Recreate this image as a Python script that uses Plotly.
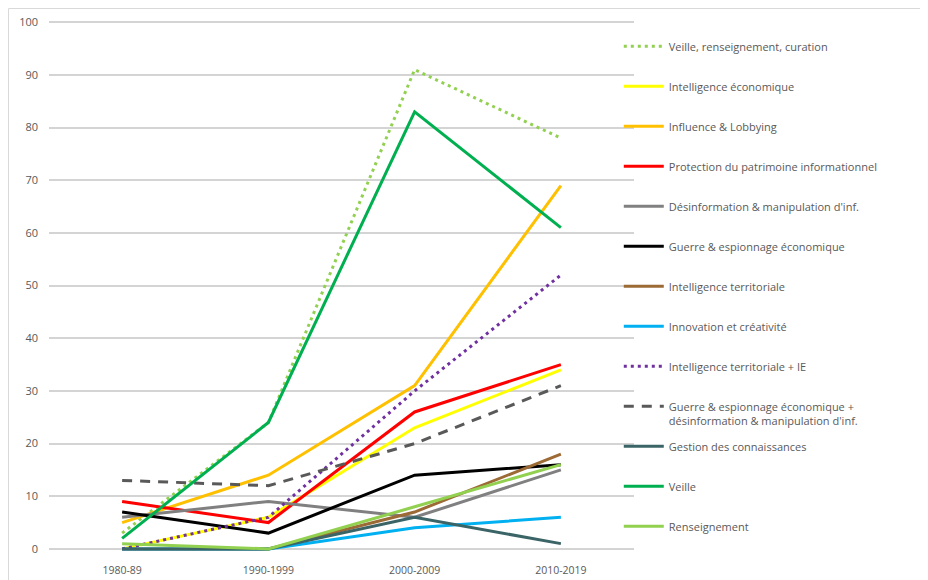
import plotly.graph_objects as go

periods = ["1980-89", "1990-1999", "2000-2009", "2010-2019"]

veille_rens_curation = [3, 24, 91, 78]
intelligence_eco = [0, 6, 23, 34]
influence_lobbying = [5, 14, 31, 69]
protection_patrimoine = [9, 5, 26, 35]
desinformation = [6, 9, 6, 15]
guerre_espionnage = [7, 3, 14, 16]
intelligence_terr = [0, 0, 7, 18]
innovation = [0, 0, 4, 6]
intel_terr_ie = [0, 6, 30, 52]
guerre_desinfo = [13, 12, 20, 31]
gestion_connaissances = [0, 0, 6, 1]
veille = [2, 24, 83, 61]
renseignement = [1, 0, 8, 16]

series = [
    ("Veille, renseignement, curation", veille_rens_curation, "#92D050", "3px,4px", "legend"),
    ("Intelligence économique", intelligence_eco, "#FFFF00", "solid", "legend"),
    ("Influence & Lobbying", influence_lobbying, "#FFC000", "solid", "legend"),
    ("Protection du patrimoine informationnel", protection_patrimoine, "#FF0000", "solid", "legend"),
    ("Désinformation & manipulation d'inf.", desinformation, "#808080", "solid", "legend"),
    ("Guerre & espionnage économique", guerre_espionnage, "#000000", "solid", "legend"),
    ("Intelligence territoriale", intelligence_terr, "#9C6A34", "solid", "legend"),
    ("Innovation et créativité", innovation, "#00B0F0", "solid", "legend"),
    ("Intelligence territoriale + IE", intel_terr_ie, "#7030A0", "3px,4px", "legend"),
    ("Guerre & espionnage économique +<br>désinformation & manipulation d'inf.", guerre_desinfo, "#595959", "10px,8px", "legend"),
    ("Gestion des connaissances", gestion_connaissances, "#3B6467", "solid", "legend2"),
    ("Veille", veille, "#00B050", "solid", "legend2"),
    ("Renseignement", renseignement, "#92D050", "solid", "legend2"),
]

fig = go.Figure()
for i, (name, vals, color, dash, leg) in enumerate(series):
    fig.add_trace(go.Scatter(
        x=periods, y=vals, name=name, mode="lines",
        line=dict(color=color, width=3, dash=dash),
        legendgroup=f"g{i}", legend=leg,
    ))

legend_common = dict(
    xanchor="left", yanchor="top",
    font=dict(family="Open Sans", size=11, color="#595959"),
    tracegroupgap=21, traceorder="grouped", valign="top",
    bgcolor="rgba(255,255,255,0)", itemwidth=40,
)

fig.update_layout(
    width=920, height=572,
    margin=dict(l=41, r=294, t=9, b=29, autoexpand=False),
    paper_bgcolor="white", plot_bgcolor="white",
    font=dict(family="Open Sans", size=11, color="#595959"),
    showlegend=True,
    legend=dict(x=0.974, y=0.9708, **legend_common),
    legend2=dict(x=0.974, y=0.2217, **legend_common),
    xaxis=dict(
        type="category", range=[-0.5, 3.5], showgrid=False, showline=False,
        zeroline=False, tickfont=dict(size=10.5, color="#595959"),
        ticklabelstandoff=11,
    ),
    yaxis=dict(
        range=[-0.4, 101], tick0=0, dtick=10, showgrid=True, gridcolor="#D4D4D4", gridwidth=1.5,
        zeroline=True, zerolinecolor="#D4D4D4", zerolinewidth=1.5, showline=False,
        tickfont=dict(size=11, color="#595959"), ticklabelstandoff=10,
    ),
    shapes=[
        dict(type="line", xref="paper", yref="paper", x0=-0.0692, x1=1.5, y0=1.0159, y1=1.0159,
             line=dict(color="#D9D9D9", width=1)),
        dict(type="line", xref="paper", yref="paper", x0=-0.0692, x1=-0.0692, y0=1.0159, y1=-0.06,
             line=dict(color="#D9D9D9", width=1)),
    ],
)

fig.write_html("out.html")
